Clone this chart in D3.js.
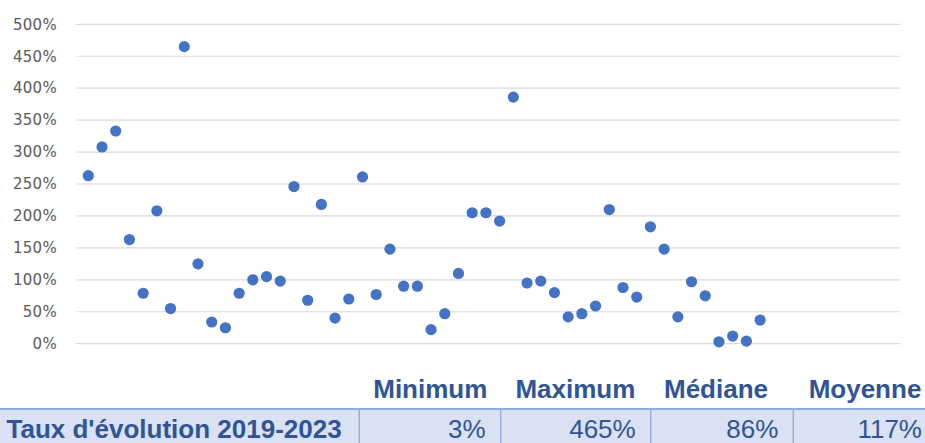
<!DOCTYPE html>
<html lang="fr">
<head>
<meta charset="utf-8">
<script src="https://cdn.jsdelivr.net/npm/d3@7"></script>
<style>
  html, body { margin: 0; padding: 0; background: #ffffff; }
  svg { display: block; }
</style>
</head>
<body>
<svg id="chart" width="925" height="443"></svg>
<script>
// Taux d'évolution 2019-2023, one point per entity (in %)
const entityIndex = d3.range(1, 51);
const growthRates = [
  263, 308, 333, 163, 79, 208, 55, 465, 125, 34,
  25, 79, 100, 105, 98, 246, 68, 218, 40, 70,
  261, 77, 148, 90, 90, 22, 47, 110, 205, 205,
  192, 386, 95, 98, 80, 42, 47, 59, 210, 88,
  73, 183, 148, 42, 97, 75, 3, 12, 4, 37
];
const yTicks = [0, 50, 100, 150, 200, 250, 300, 350, 400, 450, 500];

// Summary table
const rowLabel = "Taux d'évolution 2019-2023";
const statNames = ["Minimum", "Maximum", "Médiane", "Moyenne"];
const statValues = ["3%", "465%", "86%", "117%"];

const svg = d3.select("#chart");

// Scales
const x = d3.scaleLinear().domain([0, 60]).range([74.6, 897.2]);
const y = d3.scaleLinear().domain([0, 500]).range([343.7, 24.3]);
const gridLeft = 76.5, gridRight = 900;

// Horizontal gridlines
svg.append("g")
  .selectAll("line")
  .data(yTicks)
  .join("line")
  .attr("x1", gridLeft)
  .attr("x2", gridRight)
  .attr("y1", d => y(d))
  .attr("y2", d => y(d))
  .attr("stroke", "#d9d9d9")
  .attr("stroke-width", 1.2);

// Y axis labels
const yAxis = d3.axisLeft(y)
  .tickValues(yTicks)
  .tickFormat(d => d + "%")
  .tickSize(0)
  .tickPadding(0);
const yAxisG = svg.append("g")
  .attr("transform", "translate(57,0)")
  .call(yAxis);
yAxisG.select(".domain").remove();
yAxisG.selectAll("text")
  .attr("fill", "#595959")
  .style("font-family", "'DejaVu Sans', sans-serif")
  .style("font-size", "15px")
  .style("letter-spacing", "0.3px");

// Points
svg.append("g")
  .selectAll("circle")
  .data(growthRates)
  .join("circle")
  .attr("cx", (d, i) => x(entityIndex[i]))
  .attr("cy", d => y(d))
  .attr("r", 5.6)
  .attr("fill", "#4472c4");

// Summary table
const blue = "#2f5597";
const border = "#8ea9db";
const colEdges = [0, 359.3, 500.7, 650.7, 793.3, 937];
const headerCenters = [430.3, 575.4, 716, 865];
const rowTop = 409.5;

const table = svg.append("g").style("font-family", "'Liberation Sans', Arial, sans-serif");

table.append("rect")
  .attr("x", 0).attr("y", rowTop)
  .attr("width", 925).attr("height", 443 - rowTop)
  .attr("fill", "#d9e1f2");

table.append("line")
  .attr("x1", 0).attr("x2", 925)
  .attr("y1", rowTop - 0.5).attr("y2", rowTop - 0.5)
  .attr("stroke", border).attr("stroke-width", 2);

table.selectAll("line.sep")
  .data(colEdges.slice(1, 5))
  .join("line")
  .attr("class", "sep")
  .attr("x1", d => d).attr("x2", d => d)
  .attr("y1", rowTop).attr("y2", 443)
  .attr("stroke", border).attr("stroke-width", 1.3);

table.selectAll("text.head")
  .data(statNames)
  .join("text")
  .attr("class", "head")
  .attr("x", (d, i) => headerCenters[i])
  .attr("y", 398.3)
  .attr("text-anchor", "middle")
  .attr("fill", blue)
  .style("font-size", "26px")
  .style("font-weight", "bold")
  .text(d => d);

table.append("text")
  .attr("x", 6.5)
  .attr("y", 437.5)
  .attr("fill", blue)
  .style("font-size", "26px")
  .style("font-weight", "bold")
  .text(rowLabel);

table.selectAll("text.val")
  .data(statValues)
  .join("text")
  .attr("class", "val")
  .attr("x", (d, i) => colEdges[i + 2] - 15)
  .attr("y", 437.5)
  .attr("text-anchor", "end")
  .attr("fill", blue)
  .style("font-size", "26px")
  .text(d => d);
</script>
</body>
</html>
